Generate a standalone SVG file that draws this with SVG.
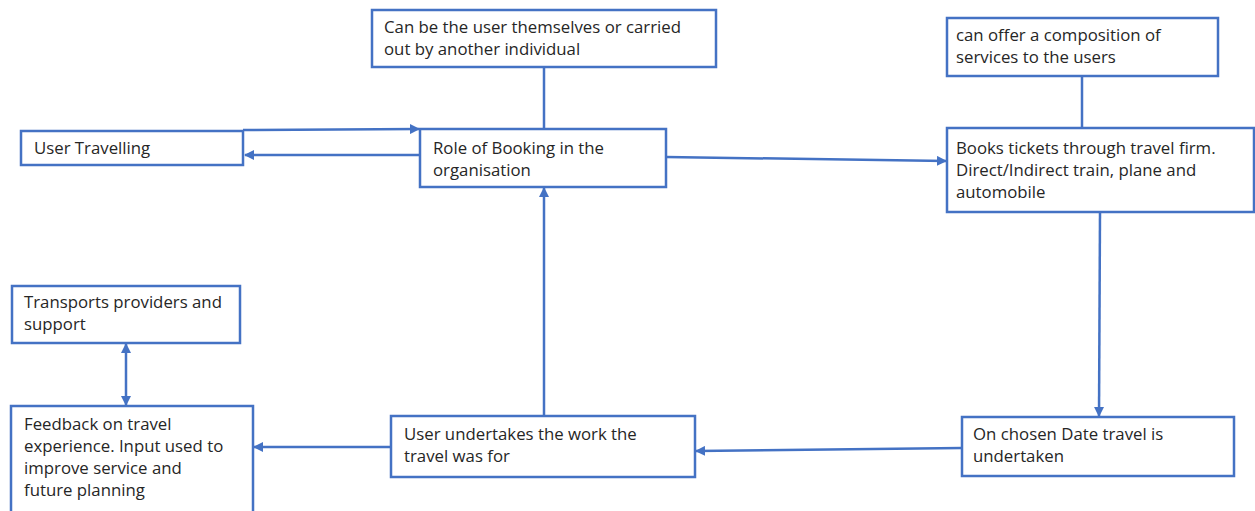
<svg xmlns="http://www.w3.org/2000/svg" width="1255" height="511" viewBox="0 0 1255 511">
  <style>
    .box { fill: #ffffff; stroke: #4472C4; stroke-width: 2.5; }
    .lbl { font-family: "Open Sans", "Liberation Sans", sans-serif; font-size: 16.8px; fill: #262626; }
    .conn { fill: none; stroke: #4472C4; stroke-width: 2.5; }
  </style>
  <defs>
    <marker id="arrow" viewBox="0 0 10 10" refX="9" refY="5" markerWidth="4" markerHeight="4" orient="auto-start-reverse" markerUnits="strokeWidth">
      <path d="M0,0 L10,5 L0,10 z" fill="#4472C4"/>
    </marker>
  </defs>
  <rect width="1255" height="511" fill="#ffffff"/>

  <g id="connectors">
    <line class="conn" x1="544" y1="67" x2="544" y2="129"/>
    <line class="conn" x1="1082" y1="76" x2="1082" y2="128"/>
    <line class="conn" x1="243" y1="130" x2="419" y2="129" marker-end="url(#arrow)"/>
    <line class="conn" x1="420" y1="155" x2="245" y2="155" marker-end="url(#arrow)"/>
    <line class="conn" x1="666" y1="157" x2="946" y2="161" marker-end="url(#arrow)"/>
    <line class="conn" x1="1100" y1="212" x2="1099" y2="416" marker-end="url(#arrow)"/>
    <line class="conn" x1="962" y1="448" x2="696" y2="451" marker-end="url(#arrow)"/>
    <line class="conn" x1="544" y1="416" x2="544" y2="188" marker-end="url(#arrow)"/>
    <line class="conn" x1="391" y1="447" x2="254" y2="447" marker-end="url(#arrow)"/>
    <line class="conn" x1="126" y1="405" x2="126" y2="344" marker-start="url(#arrow)" marker-end="url(#arrow)"/>
  </g>

  <g id="node-who-books">
    <rect class="box" x="372" y="10" width="344" height="57"/>
    <text class="lbl" x="384" y="33">Can be the user themselves or carried</text>
    <text class="lbl" x="384" y="55">out by another individual</text>
  </g>

  <g id="node-composition">
    <rect class="box" x="947" y="18" width="271" height="58"/>
    <text class="lbl" x="956" y="41">can offer a composition of</text>
    <text class="lbl" x="956" y="63">services to the users</text>
  </g>

  <g id="node-user-travelling">
    <rect class="box" x="21" y="131" width="222" height="34"/>
    <text class="lbl" x="34" y="154">User Travelling</text>
  </g>

  <g id="node-role-booking">
    <rect class="box" x="420" y="129" width="246" height="58"/>
    <text class="lbl" x="433" y="154">Role of Booking in the</text>
    <text class="lbl" x="433" y="176">organisation</text>
  </g>

  <g id="node-books-tickets">
    <rect class="box" x="947" y="128" width="307" height="84"/>
    <text class="lbl" x="956" y="154">Books tickets through travel firm.</text>
    <text class="lbl" x="956" y="176">Direct/Indirect train, plane and</text>
    <text class="lbl" x="956" y="198">automobile</text>
  </g>

  <g id="node-transports">
    <rect class="box" x="12" y="286" width="228" height="57"/>
    <text class="lbl" x="24" y="308">Transports providers and</text>
    <text class="lbl" x="24" y="330">support</text>
  </g>

  <g id="node-feedback">
    <rect class="box" x="11" y="406" width="242" height="108"/>
    <text class="lbl" x="24" y="430">Feedback on travel</text>
    <text class="lbl" x="24" y="452">experience. Input used to</text>
    <text class="lbl" x="24" y="474">improve service and</text>
    <text class="lbl" x="24" y="496">future planning</text>
  </g>

  <g id="node-user-undertakes">
    <rect class="box" x="391" y="416" width="304" height="61"/>
    <text class="lbl" x="404" y="440">User undertakes the work the</text>
    <text class="lbl" x="404" y="462">travel was for</text>
  </g>

  <g id="node-travel-date">
    <rect class="box" x="962" y="417" width="272" height="59"/>
    <text class="lbl" x="973" y="440">On chosen Date travel is</text>
    <text class="lbl" x="973" y="462">undertaken</text>
  </g>
</svg>
